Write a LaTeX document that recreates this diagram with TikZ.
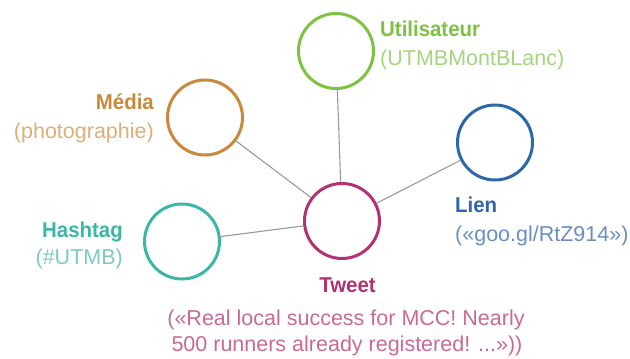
\documentclass[tikz,border=0pt]{standalone}
\usepackage{fontspec}
\setmainfont{Liberation Sans}
\newfontfamily\boldfam[FakeStretch=0.95]{Liberation Sans Bold}
\definecolor{cgreen}{HTML}{7DC242}
\definecolor{lgreen}{HTML}{A5D47E}
\definecolor{corange}{HTML}{C8893A}
\definecolor{lorange}{HTML}{DDAE78}
\definecolor{cblue}{HTML}{2C67AC}
\definecolor{lblue}{HTML}{6A8EC2}
\definecolor{cteal}{HTML}{3CB6A6}
\definecolor{lteal}{HTML}{7DCBC0}
\definecolor{cmag}{HTML}{B23172}
\definecolor{lmag}{HTML}{C96A96}
\definecolor{linkgray}{HTML}{999999}
\tikzset{
  ent/.style={circle, draw=#1, line width=3pt, minimum size=75pt, inner sep=0pt, fill=white},
  link/.style={draw=linkgray, line width=1.1pt},
  ttl/.style={text=#1, inner sep=0pt, font=\boldfam\fontsize{21.5}{26}\selectfont},
  sub/.style={text=#1, inner sep=0pt, font=\fontsize{21.5}{26}\selectfont},
}
\begin{document}
\begin{tikzpicture}[x=1pt,y=-1pt]
\useasboundingbox (0,0) rectangle (630,359);
% circles
\node[ent=cgreen] (user) at (336,51) {};
\node[ent=corange] (media) at (205,117.5) {};
\node[ent=cblue] (lien) at (495,142.5) {};
\node[ent=cteal] (hash) at (182,241.5) {};
\node[ent=cmag] (tweet) at (342,221) {};
% connectors
\draw[link] (user) -- (tweet);
\draw[link] (media) -- (tweet);
\draw[link] (lien) -- (tweet);
\draw[link] (hash) -- (tweet);
% labels
\node[ttl=cgreen, anchor=base west] (userT) at (380,36) {Utilisateur};
\node[sub=lgreen, anchor=base west] (userS) at (380,65) {(UTMBMontBLanc)};
\node[ttl=corange, anchor=base east] (mediaT) at (154,109) {Média};
\node[sub=lorange, anchor=base east] (mediaS) at (154,138) {(photographie)};
\node[ttl=cblue, anchor=base west] (lienT) at (455,212) {Lien};
\node[sub=lblue, anchor=base west] (lienS) at (455,241) {(«goo.gl/RtZ914»)};
\node[ttl=cteal, anchor=base east] (hashT) at (123,237) {Hashtag};
\node[sub=lteal, anchor=base east] (hashS) at (123,264) {(\#UTMB)};
\node[ttl=cmag, anchor=base] (tweetT) at (347.5,292) {Tweet};
\node[sub=lmag, anchor=base] (tweetS1) at (346,325) {(«Real local success for MCC! Nearly};
\node[sub=lmag, anchor=base] (tweetS2) at (347,351) {500 runners already registered! ...»))};
\end{tikzpicture}
\end{document}
